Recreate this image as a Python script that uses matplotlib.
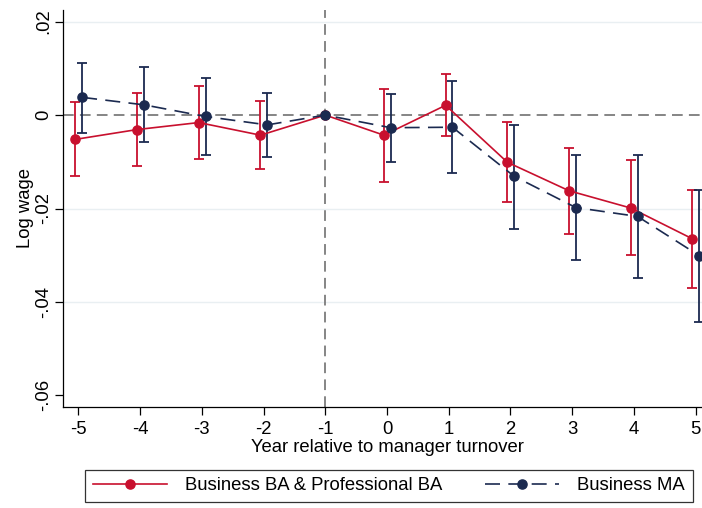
import numpy as np
import matplotlib
matplotlib.use('Agg')
import matplotlib.pyplot as plt
from matplotlib.lines import Line2D

plt.rcParams['font.family'] = ['Liberation Sans', 'DejaVu Sans']

# event-time coefficients with 95% CI
years = np.array([-5, -4, -3, -2, -1, 0, 1, 2, 3, 4, 5])

ba_b = np.array([-0.0052, -0.0031, -0.0016, -0.0043, 0.0, -0.0043, 0.0021, -0.0101, -0.0162, -0.0199, -0.0265])
ba_lo = np.array([-0.0131, -0.0109, -0.0094, -0.0115, 0.0, -0.0143, -0.0045, -0.0187, -0.0254, -0.0300, -0.0370])
ba_hi = np.array([0.0029, 0.0048, 0.0062, 0.0031, 0.0, 0.0055, 0.0088, -0.0015, -0.0070, -0.0097, -0.0160])

ma_b = np.array([0.0038, 0.0022, -0.0003, -0.0021, 0.0, -0.0027, -0.0026, -0.0131, -0.0198, -0.0217, -0.0301])
ma_lo = np.array([-0.0038, -0.0058, -0.0085, -0.0089, 0.0, -0.0101, -0.0123, -0.0243, -0.0311, -0.0348, -0.0442])
ma_hi = np.array([0.0111, 0.0102, 0.0079, 0.0048, 0.0, 0.0046, 0.0072, -0.0021, -0.0085, -0.0086, -0.0161])

labels = ['Business BA & Professional BA', 'Business MA']
yticks = [0.02, 0, -0.02, -0.04, -0.06]
ytick_labels = ['.02', '0', '-.02', '-.04', '-.06']

red = '#c8102e'
navy = '#1b2a50'
fs = 13.3

fig = plt.figure(figsize=(7.02, 5.08), dpi=100)
W, H = 702, 508
ax = fig.add_axes([63 / W, (H - 407) / H, (711 - 63) / W, (407 - 10) / H])

# horizontal grid
for y in [0.02, -0.02, -0.04]:
    ax.axhline(y, color='#e9eff2', lw=1.0, zorder=0)
ax.axhline(0, color='#858585', lw=1.4, dashes=(5.5, 3.2), zorder=1)
ax.axvline(-1, color='#858585', lw=1.4, dashes=(5.5, 3.2), zorder=1)

# small horizontal dodge so the two series don't overlap
x_ba = years - 0.05 * (years != -1)
x_ma = years + 0.06 * (years != -1)

m = years != -1
ax.errorbar(x_ba[m], ba_b[m], yerr=[ba_b[m] - ba_lo[m], ba_hi[m] - ba_b[m]],
            fmt='none', ecolor=red, elinewidth=1.3, capsize=3.4, capthick=1.3, zorder=2)
ax.errorbar(x_ma[m], ma_b[m], yerr=[ma_b[m] - ma_lo[m], ma_hi[m] - ma_b[m]],
            fmt='none', ecolor=navy, elinewidth=1.3, capsize=3.4, capthick=1.3, zorder=3)
ax.plot(x_ba, ba_b, color=red, lw=1.2, marker='o', ms=6.6, zorder=4)
ax.plot(x_ma, ma_b, color=navy, lw=1.2, marker='o', ms=6.6, dashes=(9, 5), zorder=5)

ax.set_xlim(-5.25, 5.25)
ax.set_ylim(-0.0625, 0.0225)
ax.set_xticks(years)
ax.set_xticklabels([str(y) for y in years])
ax.set_yticks(yticks)
ax.set_yticklabels(ytick_labels, rotation=90, va='center')
ax.tick_params(axis='both', direction='out', length=6, width=0.9, labelsize=fs)
ax.tick_params(axis='x', pad=4)
ax.tick_params(axis='y', pad=2)
for s in ['top', 'right']:
    ax.spines[s].set_visible(False)
for s in ['left', 'bottom']:
    ax.spines[s].set_linewidth(0.9)

ax.set_xlabel('Year relative to manager turnover', fontsize=fs, labelpad=1)
ax.set_ylabel('Log wage', fontsize=fs, labelpad=1)

handles = [Line2D([], [], color=red, lw=1.2, marker='o', ms=6.6),
           Line2D([], [], color=navy, lw=1.2, marker='o', ms=6.6, dashes=(9, 5))]
leg = fig.legend(handles, labels, loc='center', ncol=2, fontsize=fs,
                 bbox_to_anchor=(389 / W, 1 - 486 / H), frameon=True, fancybox=False,
                 edgecolor='black', handlelength=4.0, handletextpad=1.0, columnspacing=2.3,
                 borderpad=0.42)
leg.get_frame().set_linewidth(0.9)

fig.savefig('out.png', dpi=100)
